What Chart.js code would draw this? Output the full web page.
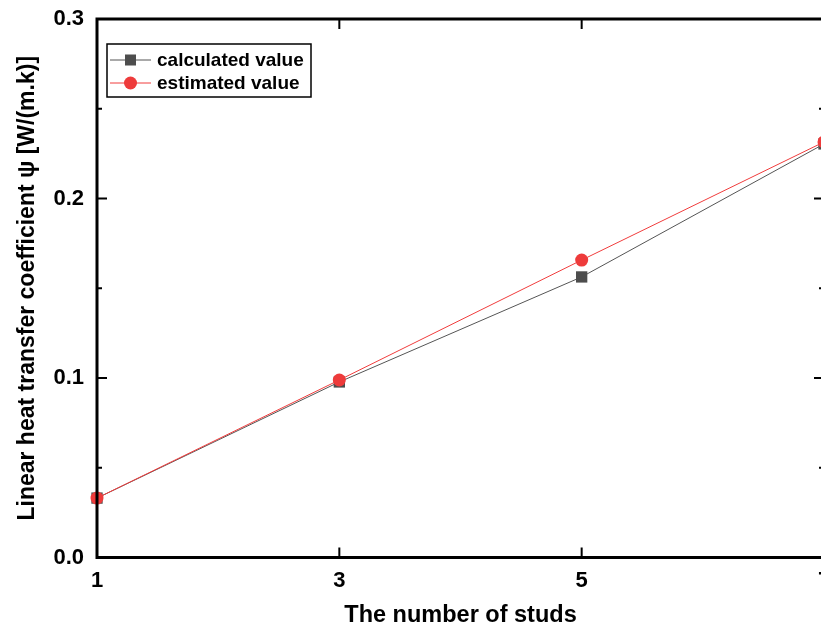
<!DOCTYPE html>
<html>
<head>
<meta charset="utf-8">
<script src="https://cdn.jsdelivr.net/npm/chart.js@4"></script>
<style>
  html, body { margin: 0; padding: 0; background: #fff; overflow: hidden; }
  #wrap { width: 834px; height: 627px; }
</style>
</head>
<body>
<div id="wrap"><canvas id="grafico" width="834" height="627"></canvas></div>
<script>
// dados do gráfico
var studs = [1, 3, 5, 7];
var calculated = [0.0331, 0.0978, 0.1563, 0.2304];
var estimated = [0.0331, 0.0989, 0.1657, 0.2315];
var xTicks = [1, 3, 5, 7];
var yTicks = [0, 0.1, 0.2, 0.3];

var fontFam = '"Liberation Sans", Arial, sans-serif';

// moldura, ticks para dentro e legenda
var frame = {
  id: 'frame',
  afterDraw: function (chart) {
    var c = chart.ctx, a = chart.chartArea;
    var xs = chart.scales.x, ys = chart.scales.y;
    c.save();
    c.strokeStyle = '#000';
    c.lineWidth = 3;
    c.strokeRect(a.left, a.top, a.right - a.left, a.bottom - a.top);
    c.lineWidth = 2;
    c.beginPath();
    xTicks.forEach(function (v) {
      var px = xs.getPixelForValue(v);
      c.moveTo(px, a.bottom); c.lineTo(px, a.bottom - 10);
      c.moveTo(px, a.top); c.lineTo(px, a.top + 10);
    });
    for (var k = 0; k <= 6; k++) {
      var py = ys.getPixelForValue(k * 0.05);
      var l2 = (k % 2 === 0) ? 10 : 5;
      c.moveTo(a.left, py); c.lineTo(a.left + l2, py);
      c.moveTo(a.right, py); c.lineTo(a.right - l2, py);
    }
    c.stroke();

    // legenda
    var lx = 107, ly = 44, lw = 204, lh = 53;
    c.lineWidth = 1.5;
    c.strokeRect(lx, ly, lw, lh);
    c.font = 'bold 19px ' + fontFam;
    c.textBaseline = 'middle';
    chart.data.datasets.forEach(function (ds, i) {
      var yy = ly + 16 + i * 23;
      c.strokeStyle = ds.borderColor;
      c.lineWidth = 1;
      c.beginPath(); c.moveTo(lx + 3, yy); c.lineTo(lx + 44, yy); c.stroke();
      c.fillStyle = ds.backgroundColor;
      if (ds.pointStyle === 'rect') {
        c.fillRect(lx + 18, yy - 5.5, 11, 11);
      } else {
        c.beginPath(); c.arc(lx + 23.5, yy, 6.5, 0, Math.PI * 2); c.fill();
      }
      c.fillStyle = '#000';
      c.fillText(ds.label, lx + 50, yy + 1);
    });
    c.restore();
  }
};

var data = {
  datasets: [{
    label: 'calculated value',
    data: studs.map(function (x, i) { return { x: x, y: calculated[i] }; }),
    borderColor: '#555555',
    backgroundColor: '#4d4d4d',
    borderWidth: 1,
    pointStyle: 'rect',
    pointRadius: 8,
    pointBorderWidth: 0,
    order: 1
  }, {
    label: 'estimated value',
    data: studs.map(function (x, i) { return { x: x, y: estimated[i] }; }),
    borderColor: '#f03c3c',
    backgroundColor: '#ee3b3b',
    borderWidth: 1,
    pointStyle: 'circle',
    pointRadius: 6.5,
    pointBorderWidth: 0,
    order: 0
  }]
};

function noPad(s) { s.paddingLeft = 0; s.paddingRight = 0; s.paddingTop = 0; s.paddingBottom = 0; }

var options = {
  responsive: false,
  animation: false,
  clip: false,
  layout: { padding: { top: 19, right: 10, left: 0, bottom: 0 } },
  plugins: { legend: { display: false }, tooltip: { enabled: false } },
  scales: {
    x: {
      type: 'linear', min: 1, max: 7,
      afterBuildTicks: function (s) { s.ticks = xTicks.map(function (v) { return { value: v }; }); },
      afterFit: function (s) { s.height = 69.5; noPad(s); },
      grid: { display: false },
      border: { display: false },
      ticks: { color: '#000', padding: 2, font: { family: fontFam, size: 22, weight: 'bold' } },
      title: { display: true, text: 'The number of studs', color: '#000', padding: 0,
               font: { family: fontFam, size: 23.5, weight: 'bold', lineHeight: 1 } }
    },
    y: {
      type: 'linear', min: 0, max: 0.3,
      afterBuildTicks: function (s) { s.ticks = yTicks.map(function (v) { return { value: v }; }); },
      afterFit: function (s) { s.width = 97; noPad(s); },
      grid: { display: false },
      border: { display: false },
      ticks: { color: '#000', padding: 5, font: { family: fontFam, size: 22, weight: 'bold' },
               callback: function (v) { return v.toFixed(1); } },
      title: { display: true, text: 'Linear heat transfer coefficient \u03c8 [W/(m.k)]', color: '#000',
               padding: { top: 16, bottom: 0 },
               font: { family: fontFam, size: 23, weight: 'bold', lineHeight: 1 } }
    }
  }
};

var ctx = document.querySelector('#grafico');
var lineChart = new Chart(ctx, { type: 'line', data: data, options: options, plugins: [frame] });
</script>
</body>
</html>
